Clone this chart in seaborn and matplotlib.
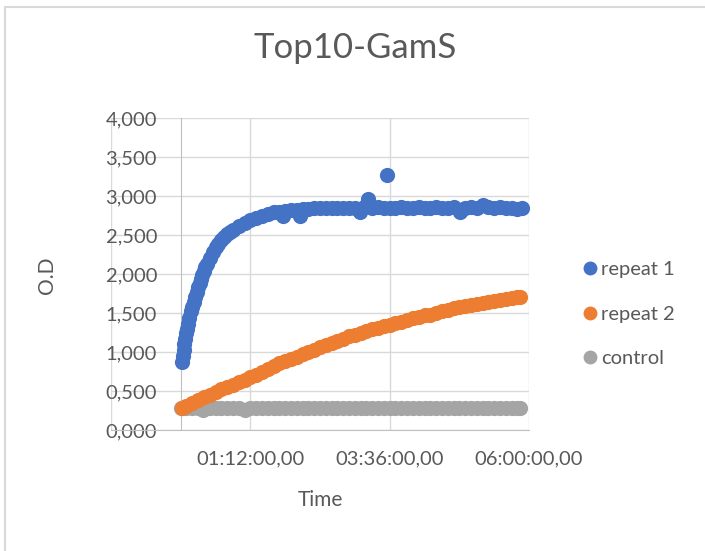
import numpy as np
import pandas as pd
import matplotlib
matplotlib.use('Agg')
import matplotlib.pyplot as plt
import seaborn as sns
from matplotlib.patches import Rectangle
from matplotlib.lines import Line2D

# time in hours
t_rep1 = [0.02, 0.035, 0.05, 0.065, 0.08, 0.095, 0.11, 0.125, 0.15, 0.175, 0.2, 0.225, 0.25, 0.275, 0.3, 0.325, 0.35,
          0.375, 0.4, 0.425, 0.45, 0.5, 0.55, 0.6, 0.65, 0.7, 0.75, 0.8, 0.85, 0.9, 1.0, 1.1, 1.2, 1.3, 1.4,
          1.5, 1.6, 1.7, 1.76, 1.8, 1.9, 2.0, 2.05, 2.1, 2.2, 2.3, 2.4, 2.5, 2.6, 2.7, 2.8, 2.9,
          3.0, 3.09, 3.15, 3.23, 3.3, 3.4, 3.5, 3.56, 3.6, 3.7, 3.8, 3.9, 4.0, 4.1, 4.2, 4.3,
          4.4, 4.5, 4.6, 4.7, 4.81, 4.9, 5.0, 5.1, 5.2, 5.3, 5.4, 5.5, 5.6, 5.7, 5.79, 5.88]
od_rep1 = [0.87, 0.95, 1.02, 1.10, 1.17, 1.24, 1.30, 1.36, 1.44, 1.52, 1.58, 1.64, 1.70, 1.77, 1.83, 1.89, 1.94,
           1.99, 2.04, 2.09, 2.13, 2.21, 2.28, 2.34, 2.39, 2.43, 2.47, 2.51, 2.54, 2.56, 2.61, 2.65, 2.69, 2.72, 2.75,
           2.77, 2.79, 2.80, 2.75, 2.81, 2.82, 2.82, 2.75, 2.83, 2.83, 2.85, 2.84, 2.85, 2.85, 2.84, 2.85, 2.85,
           2.85, 2.79, 2.86, 2.96, 2.85, 2.86, 2.85, 3.27, 2.84, 2.85, 2.86, 2.85, 2.85, 2.86, 2.85, 2.85,
           2.86, 2.85, 2.85, 2.86, 2.80, 2.85, 2.86, 2.85, 2.89, 2.86, 2.85, 2.86, 2.85, 2.85, 2.83, 2.85]

t_rep2 = [0.03, 0.1, 0.2, 0.3, 0.4, 0.5, 0.6, 0.7, 0.8, 0.9, 1.0, 1.1, 1.2, 1.3, 1.4, 1.5, 1.6,
          1.7, 1.8, 1.9, 2.0, 2.1, 2.2, 2.3, 2.4, 2.5, 2.6, 2.7, 2.8, 2.9, 3.0, 3.1, 3.2, 3.3,
          3.4, 3.5, 3.6, 3.7, 3.8, 3.9, 4.0, 4.1, 4.2, 4.3, 4.4, 4.5, 4.6, 4.7, 4.8, 4.9, 5.0,
          5.1, 5.2, 5.3, 5.4, 5.5, 5.6, 5.7, 5.8, 5.85]
od_rep2 = [0.28, 0.31, 0.35, 0.38, 0.42, 0.45, 0.49, 0.52, 0.55, 0.58, 0.61, 0.64, 0.68, 0.71, 0.75, 0.78, 0.82,
           0.86, 0.89, 0.91, 0.94, 0.97, 1.00, 1.03, 1.06, 1.09, 1.12, 1.14, 1.17, 1.20, 1.22, 1.25, 1.27, 1.29,
           1.31, 1.33, 1.35, 1.37, 1.39, 1.41, 1.43, 1.45, 1.47, 1.48, 1.50, 1.52, 1.54, 1.56, 1.58, 1.59, 1.60,
           1.61, 1.63, 1.64, 1.65, 1.67, 1.68, 1.69, 1.70, 1.71]

t_ctrl = [0.0, 0.1, 0.2, 0.3, 0.38, 0.5, 0.6, 0.7, 0.8, 0.9, 1.0, 1.1, 1.2, 1.3, 1.4, 1.5, 1.6, 1.7,
          1.8, 1.9, 2.0, 2.1, 2.2, 2.3, 2.4, 2.5, 2.6, 2.7, 2.8, 2.9, 3.0, 3.1, 3.2, 3.3, 3.4, 3.5,
          3.6, 3.7, 3.8, 3.9, 4.0, 4.1, 4.2, 4.3, 4.4, 4.5, 4.6, 4.7, 4.8, 4.9, 5.0, 5.1, 5.2, 5.3,
          5.4, 5.5, 5.6, 5.7, 5.8, 5.85]
od_ctrl = [0.28, 0.28, 0.28, 0.28, 0.26, 0.28, 0.28, 0.28, 0.28, 0.28, 0.28, 0.26, 0.28, 0.28, 0.28, 0.28, 0.28, 0.28,
           0.28, 0.28, 0.28, 0.28, 0.28, 0.28, 0.28, 0.28, 0.28, 0.28, 0.28, 0.28, 0.28, 0.28, 0.28, 0.28, 0.28, 0.28,
           0.28, 0.28, 0.28, 0.28, 0.28, 0.28, 0.28, 0.28, 0.28, 0.28, 0.28, 0.28, 0.28, 0.28, 0.28, 0.28, 0.28, 0.28,
           0.28, 0.28, 0.28, 0.28, 0.28, 0.28]

series_names = ['repeat 1', 'repeat 2', 'control']
colors = ['#4472C4', '#ED7D31', '#A5A5A5']
x_tick_vals = [-1.2, 1.2, 3.6, 6.0]
x_tick_labels = ['', '01:12:00,00', '03:36:00,00', '06:00:00,00']
y_tick_vals = [0, 0.5, 1.0, 1.5, 2.0, 2.5, 3.0, 3.5, 4.0]
y_tick_labels = ['0,000', '0,500', '1,000', '1,500', '2,000', '2,500', '3,000', '3,500', '4,000']

df = pd.concat([
    pd.DataFrame({'Time': t_rep1, 'O.D': od_rep1, 'series': 'repeat 1'}),
    pd.DataFrame({'Time': t_rep2, 'O.D': od_rep2, 'series': 'repeat 2'}),
    pd.DataFrame({'Time': t_ctrl, 'O.D': od_ctrl, 'series': 'control'}),
])

sns.set_style('white')
plt.rcParams['font.family'] = ['Lato', 'DejaVu Sans']
txt = '#595959'

fig = plt.figure(figsize=(7.05, 5.51), dpi=100)
ax = fig.add_axes([111 / 705, 1 - 430 / 551, (529 - 111) / 705, (430 - 118) / 551])

# control first so it sits at the back like in excel
for name in ['control', 'repeat 2', 'repeat 1']:
    sns.scatterplot(data=df[df['series'] == name], x='Time', y='O.D', color=colors[series_names.index(name)],
                    s=120, linewidth=0, ax=ax, zorder=3, legend=False)

ax.set_xlim(-1.2, 6.0)
ax.set_ylim(0, 4.0)
ax.set_xticks(x_tick_vals)
ax.set_xticklabels(x_tick_labels)
ax.set_yticks(y_tick_vals)
ax.set_yticklabels(y_tick_labels)
ax.grid(True, color='#d9d9d9', linewidth=1)
for s in ['top', 'right']:
    ax.spines[s].set_visible(False)
ax.spines['left'].set_position(('data', 0))
ax.spines['left'].set_color('#bfbfbf')
ax.spines['bottom'].set_color('#bfbfbf')
ax.tick_params(axis='x', colors='#bfbfbf', length=6, width=1, labelcolor=txt, labelsize=14.5, pad=9)
ax.tick_params(axis='y', colors='#bfbfbf', length=0, labelcolor=txt, labelsize=14.5, pad=17)
ax.xaxis.get_major_ticks()[0].tick1line.set_visible(False)

ax.set_xlabel('Time', color=txt, fontsize=15, labelpad=16)
ax.set_ylabel('')
fig.text(47 / 705, 1 - 275 / 551, 'O.D', rotation=90, color=txt, fontsize=15, ha='center', va='center')
fig.text(355 / 705, 1 - 48 / 551, 'Top10-GamS', color=txt, fontsize=25, ha='center', va='center')

handles = [Line2D([], [], linestyle='', marker='o', markersize=10, color=c, markeredgewidth=0) for c in colors]
fig.legend(handles, series_names, loc='center left', bbox_to_anchor=(576 / 705, 1 - 314 / 551),
           frameon=False, fontsize=14.5, labelcolor=txt, handlelength=0.6, handletextpad=0.25,
           labelspacing=1.35, borderaxespad=0)

fig.patches.append(Rectangle((5 / 705, -0.1), 1.2, (551 - 7) / 551 + 0.1, transform=fig.transFigure,
                             fill=False, edgecolor='#d9d9d9', linewidth=1.5))

fig.savefig('out.png', dpi=100)
